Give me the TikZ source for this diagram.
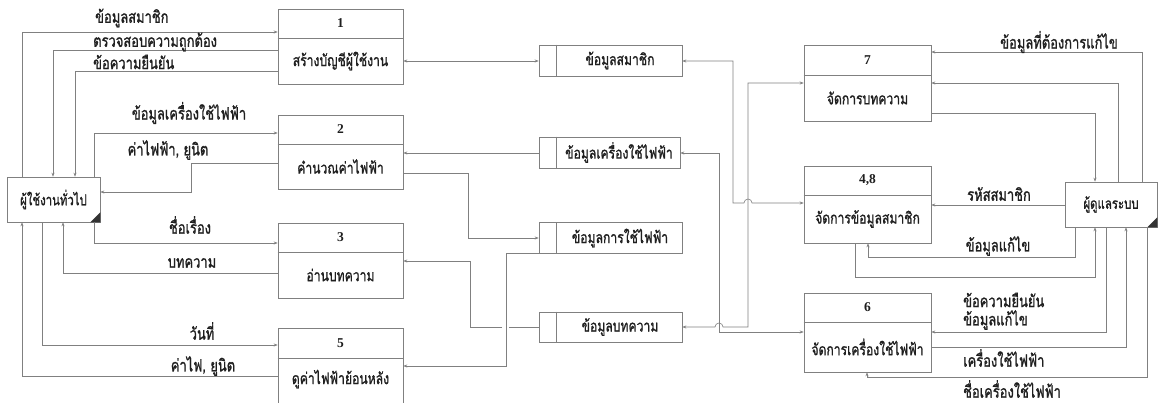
\documentclass[tikz,border=0pt]{standalone}
\usepackage{fontspec}
\newfontfamily\thaifont[Script=Thai,FakeStretch=0.76,FakeBold=1.2]{Loma}
\newfontfamily\numfont{Liberation Serif}
\usetikzlibrary{arrows.meta}
\definecolor{ln}{gray}{0.5}
\definecolor{tx}{gray}{0.12}
\tikzset{
  box/.style={draw=ln, line width=0.6pt},
  proc/.style={box, rectangle, inner sep=0pt, minimum width=125pt},
  rproc/.style={box, rectangle, inner sep=0pt, minimum width=127pt},
  store/.style={box, rectangle, inner sep=0pt, minimum width=143pt, minimum height=31pt},
  ent/.style={box, rectangle, inner sep=0pt, minimum width=93pt, minimum height=45pt, text=tx, font=\thaifont\fontsize{15}{17}\selectfont},
  ptxt/.style={text=tx, inner sep=0pt, font=\thaifont\fontsize{16}{18}\selectfont},
  num/.style={text=tx, inner sep=0pt, font=\numfont\bfseries\fontsize{13.5}{15}\selectfont},
  lbl/.style={text=tx, inner sep=0pt, font=\thaifont\fontsize{17}{19}\selectfont},
  flow/.style={draw=ln, line width=0.6pt, -{Stealth[length=4pt,width=3pt]}},
  flowtwo/.style={draw=ln, line width=0.6pt, {Stealth[length=4pt,width=3pt]}-{Stealth[length=4pt,width=3pt]}},
}
\begin{document}
\begin{tikzpicture}[x=1pt,y=-1pt]
\useasboundingbox (0,0) rectangle (1161,403);
\fill[white] (0,0) rectangle (1161,403);

% ---------- external entities ----------
\node[ent] (user) at (53.5,199.5) {ผู้ใช้งานทั่วไป};
\fill[black!80] (user.south east) -- ++(-10,0) -- ++(10,-10) -- cycle;
\node[ent, minimum width=92pt] (admin) at (1111,204.5) {ผู้ดูแลระบบ};
\fill[black!80] (admin.south east) -- ++(-10,0) -- ++(10,-10) -- cycle;

% ---------- left processes ----------
\node[proc, minimum height=75pt] (p1) at (340.5,46.5) {};
\draw[box] (p1.west |- 0,38) -- (p1.east |- 0,38);
\node[num] (p1n) at (340.5,23.5) {1};
\node[ptxt] (p1t) at (340.5,61) {สร้างบัญชีผู้ใช้งาน};

\node[proc, minimum height=74pt] (p2) at (340.5,152) {};
\draw[box] (p2.west |- 0,144) -- (p2.east |- 0,144);
\node[num] (p2n) at (340.5,129.5) {2};
\node[ptxt] (p2t) at (340.5,166.5) {คำนวณค่าไฟฟ้า};

\node[proc, minimum height=75pt] (p3) at (340.5,260.5) {};
\draw[box] (p3.west |- 0,252) -- (p3.east |- 0,252);
\node[num] (p3n) at (340.5,237.5) {3};
\node[ptxt] (p3t) at (340.5,275) {อ่านบทความ};

\node[proc, minimum height=78pt] (p5) at (340.5,367) {};
\draw[box] (p5.west |- 0,358) -- (p5.east |- 0,358);
\node[num] (p5n) at (340.5,343) {5};
\node[ptxt] (p5t) at (340.5,379) {ดูค่าไฟฟ้าย้อนหลัง};

% ---------- right processes ----------
\node[rproc, minimum height=76pt] (p7) at (867.5,83) {};
\draw[box] (p7.west |- 0,75) -- (p7.east |- 0,75);
\node[num] (p7n) at (867.5,60) {7};
\node[ptxt] (p7t) at (867.5,98) {จัดการบทความ};

\node[rproc, minimum height=77pt] (p48) at (867.5,204.5) {};
\draw[box] (p48.west |- 0,195) -- (p48.east |- 0,195);
\node[num] (p48n) at (867.5,180.5) {4,8};
\node[ptxt] (p48t) at (867.5,219) {จัดการข้อมูลสมาชิก};

\node[rproc, minimum height=79pt] (p6) at (867.5,332.5) {};
\draw[box] (p6.west |- 0,322) -- (p6.east |- 0,322);
\node[num] (p6n) at (867.5,307.5) {6};
\node[ptxt] (p6t) at (867.5,347) {จัดการเครื่องใช้ไฟฟ้า};

% ---------- data stores ----------
\node[store] (s1) at (610.5,60.5) {};
\draw[box] (s1.north west) ++(18,0) -- ++(0,31);
\node[ptxt] (s1t) at (620,60.5) {ข้อมูลสมาชิก};

\node[store, minimum width=141pt] (s2) at (609.5,152.5) {};
\draw[box] (s2.north west) ++(18,0) -- ++(0,31);
\node[ptxt] (s2t) at (619,152.5) {ข้อมูลเครื่องใช้ไฟฟ้า};

\node[store] (s3) at (610.5,238) {};
\draw[box] (s3.north west) ++(18,0) -- ++(0,31);
\node[ptxt] (s3t) at (620,238) {ข้อมูลการใช้ไฟฟ้า};

\node[store, minimum height=30pt] (s4) at (610.5,327) {};
\draw[box] (s4.north west) ++(18,0) -- ++(0,30);
\node[ptxt] (s4t) at (620,327) {ข้อมูลบทความ};

% ---------- flows: user <-> left processes ----------
\draw[flow] (user.north -| 22,0) |- (p1.west |- 0,32);
\draw[flow] (p1.west |- 0,50) -| (user.north -| 53,0);
\draw[flow] (p1.west |- 0,71) -| (user.north -| 75,0);
\draw[flow] (user.north -| 94,0) |- (p2.west |- 0,133);
\draw[flow] (p2.west |- 0,163) -| (191,192) -- (user.east |- 0,192);
\draw[flow] (user.south -| 94,0) |- (p3.west |- 0,243);
\draw[flow] (p3.west |- 0,273) -| (user.south -| 63,0);
\draw[flow] (user.south -| 42,0) |- (p5.west |- 0,345);
\draw[flow] (p5.west |- 0,376) -| (user.south -| 22,0);

\node[lbl, anchor=west] (l1) at (95,18) {ข้อมูลสมาชิก};
\node[lbl, anchor=west] (l2) at (93,42) {ตรวจสอบความถูกต้อง};
\node[lbl, anchor=west] (l3) at (93,62) {ข้อความยืนยัน};
\node[lbl] (l4) at (189,113) {ข้อมูลเครื่องใช้ไฟฟ้า};
\node[lbl] (l5) at (168,150) {ค่าไฟฟ้า, ยูนิต};
\node[lbl] (l6) at (190,225) {ชื่อเรื่อง};
\node[lbl] (l7) at (192,263) {บทความ};
\node[lbl] (l8) at (202,331) {วันที่};
\node[lbl] (l9) at (203,366) {ค่าไฟ, ยูนิต};

% ---------- flows: left processes <-> stores ----------
\draw[flowtwo] (p1.east |- 0,61) -- (s1.west |- 0,61);
\draw[flow] (s2.west |- 0,153) -- (p2.east |- 0,153);
\draw[flow] (p2.east |- 0,173) -| (468,238) -- (s3.west |- 0,238);
\draw[flow] (s4.west |- 0,327) -- (509,327) (502,327) -| (470,261) -- (p3.east |- 0,261);
\draw[flow] (s3.south west) -| (506,366) -- (p5.east |- 0,366);

% ---------- flows: stores <-> right processes ----------
\draw[flowtwo] (s1.east |- 0,61) -| (733,203) -- (744,203) arc[start angle=180,end angle=0,radius=4pt] -- (p48.west |- 0,203);
\draw[flowtwo] (p7.west |- 0,83) -| (748,327) -- (723,327) arc[start angle=0,end angle=180,radius=4pt] -- (s4.east |- 0,327);
\draw[flowtwo] (s2.east |- 0,153) -| (719,332) -- (p6.west |- 0,332);

% ---------- flows: admin <-> right processes ----------
\draw[flow] (admin.north -| 1142,0) |- (p7.east |- 0,52);
\draw[flow] (admin.north -| 1118,0) |- (p7.east |- 0,83);
\draw[flow] (p7.east |- 0,113) -| (admin.north -| 1095,0);
\draw[flow] (admin.west |- 0,205) -- (p48.east |- 0,205);
\draw[flow] (admin.south -| 1075,0) |- (868,257) -- (p48.south -| 868,0);
\draw[flow] (p48.south -| 855,0) |- (1095,277) -- (admin.south -| 1095,0);
\draw[flow] (admin.south -| 1106,0) |- (p6.east |- 0,332);
\draw[flow] (p6.east |- 0,347) -| (admin.south -| 1126,0);
\draw[flow] (admin.south -| 1147,0) |- (867,377) -- (p6.south -| 867,0);

\node[lbl] (r1) at (1059,42) {ข้อมูลที่ต้องการแก้ไข};
\node[lbl] (r2) at (999,194) {รหัสสมาชิก};
\node[lbl] (r3) at (998,246) {ข้อมูลแก้ไข};
\node[lbl, anchor=west] (r4) at (963,300) {ข้อความยืนยัน};
\node[lbl, anchor=west] (r5) at (963,320) {ข้อมูลแก้ไข};
\node[lbl, anchor=west] (r6) at (963,358) {เครื่องใช้ไฟฟ้า};
\node[lbl, anchor=west] (r7) at (963,389) {ชื่อเครื่องใช้ไฟฟ้า};
\end{tikzpicture}
\end{document}
